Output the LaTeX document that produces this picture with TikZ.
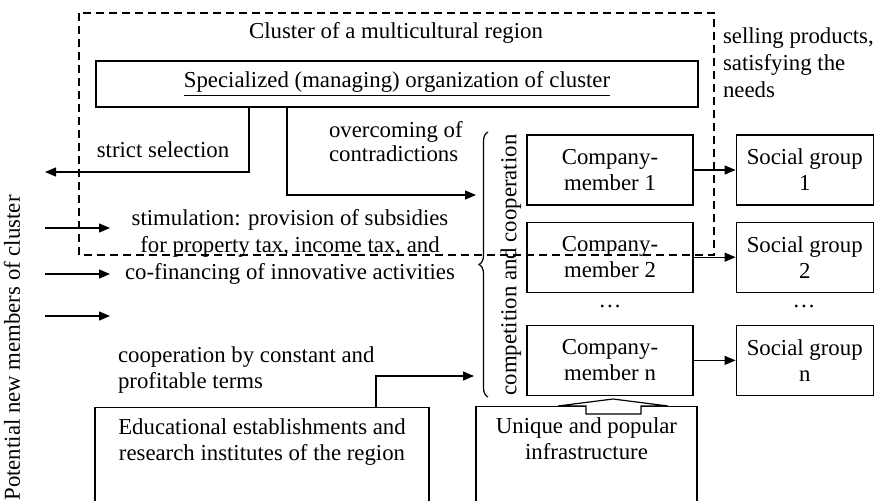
\documentclass[tikz,border=0pt]{standalone}
\usepackage{fontspec}
\setmainfont{Liberation Serif}
\usetikzlibrary{positioning}
\usetikzlibrary{arrows.meta,decorations.pathreplacing}

\tikzset{
  box/.style={draw, line width=0.6pt, align=center},
  member/.style={box, minimum width=83pt, minimum height=35pt},
  group/.style={box, minimum width=68.5pt, minimum height=35pt},
  link/.style={line width=0.6pt, -{Triangle[length=5.5pt,width=4.5pt]}},
}

\begin{document}
\begin{tikzpicture}[x=0.5pt, y=-0.5pt, font=\fontsize{11.4}{13}\selectfont]
\useasboundingbox (0,0) rectangle (874,500);

% cluster frame
\draw[line width=0.6pt, dash pattern=on 4pt off 2.5pt] (79,13) rectangle (714,255);
\node (cluster title) at (396,33) {Cluster of a multicultural region};
\node[box, minimum width=301pt, minimum height=23pt] (managing org) at (397,84)
  {\underline{Specialized (managing) organization of cluster}};

% members and groups
\node[member] (company 1) at (610,170) {Company-\\member 1};
\node[member, below=8pt of company 1] (company 2) {Company-\\member 2};
\node[member, below=16pt of company 2] (company n) {Company-\\member n};
\node[group, right=21pt of company 1] (group 1) {Social group\\1};
\node[group, right=21pt of company 2] (group 2) {Social group\\2};
\node[group, right=21pt of company n] (group n) {Social group\\n};
\node (member dots) at (610,306) {\dots};
\node (group dots) at (804,306) {\dots};
\foreach \i in {1,2,n}
  \draw[link] (company \i) -- (group \i);

\node[align=left, anchor=north west] (selling) at (716,21)
  {selling products,\\[0.5pt]satisfying the\\[0.5pt]needs};

% brace
\draw[line width=0.6pt, decorate, decoration={brace, amplitude=4.5pt}] (488,397) -- (488,132);
\node[rotate=90] (competition) at (511,265) {competition and cooperation};

% selection and contradictions
\coordinate (selection end) at (45,172);
\coordinate (brace top) at (476,195);
\draw[link] (managing org.south -| 249,0) |- (selection end);
\node (selection label) at (163,150) {strict selection};
\draw[link] (managing org.south -| 287,0) |- (brace top);
\node[align=left, anchor=west] (contradictions) at (322,142) {overcoming of\\[-1pt]contradictions};

% potential members
\node[rotate=90] (potential) at (12,348) {Potential new members of cluster};
\foreach \y [count=\i] in {228,274,316} {
  \coordinate (from \i) at (45,\y);
  \coordinate (to \i) at (110,\y);
  \draw[link] (from \i) -- (to \i);
}
\node[align=center] (stimulation) at (290,247)
  {stimulation: provision of subsidies\\[0.7pt]for property tax, income tax, and\\[0.7pt]co-financing of innovative activities};

% bottom boxes
\node[box, anchor=north, minimum width=167pt, inner ysep=5.5pt, text depth=45pt] (education) at (262,407)
  {Educational establishments and\\research institutes of the region};
\node[box, anchor=north, minimum width=110.5pt, inner ysep=5.5pt, text depth=45pt] (infrastructure) at (586.5,406)
  {Unique and popular\\infrastructure};
\draw[line width=0.6pt, fill=white, shift={(company n.south)}]
  (-24,18) -- (-24,10) -- (-52,10) -- (3,3) -- (58,10) -- (31,10) -- (31,18) -- cycle;

\coordinate (brace bottom) at (474,376);
\draw[link] (education.north -| 376,0) |- (brace bottom);
\node[align=left, anchor=west] (cooperation) at (111,370) {cooperation by constant and\\profitable terms};
\end{tikzpicture}
\end{document}
